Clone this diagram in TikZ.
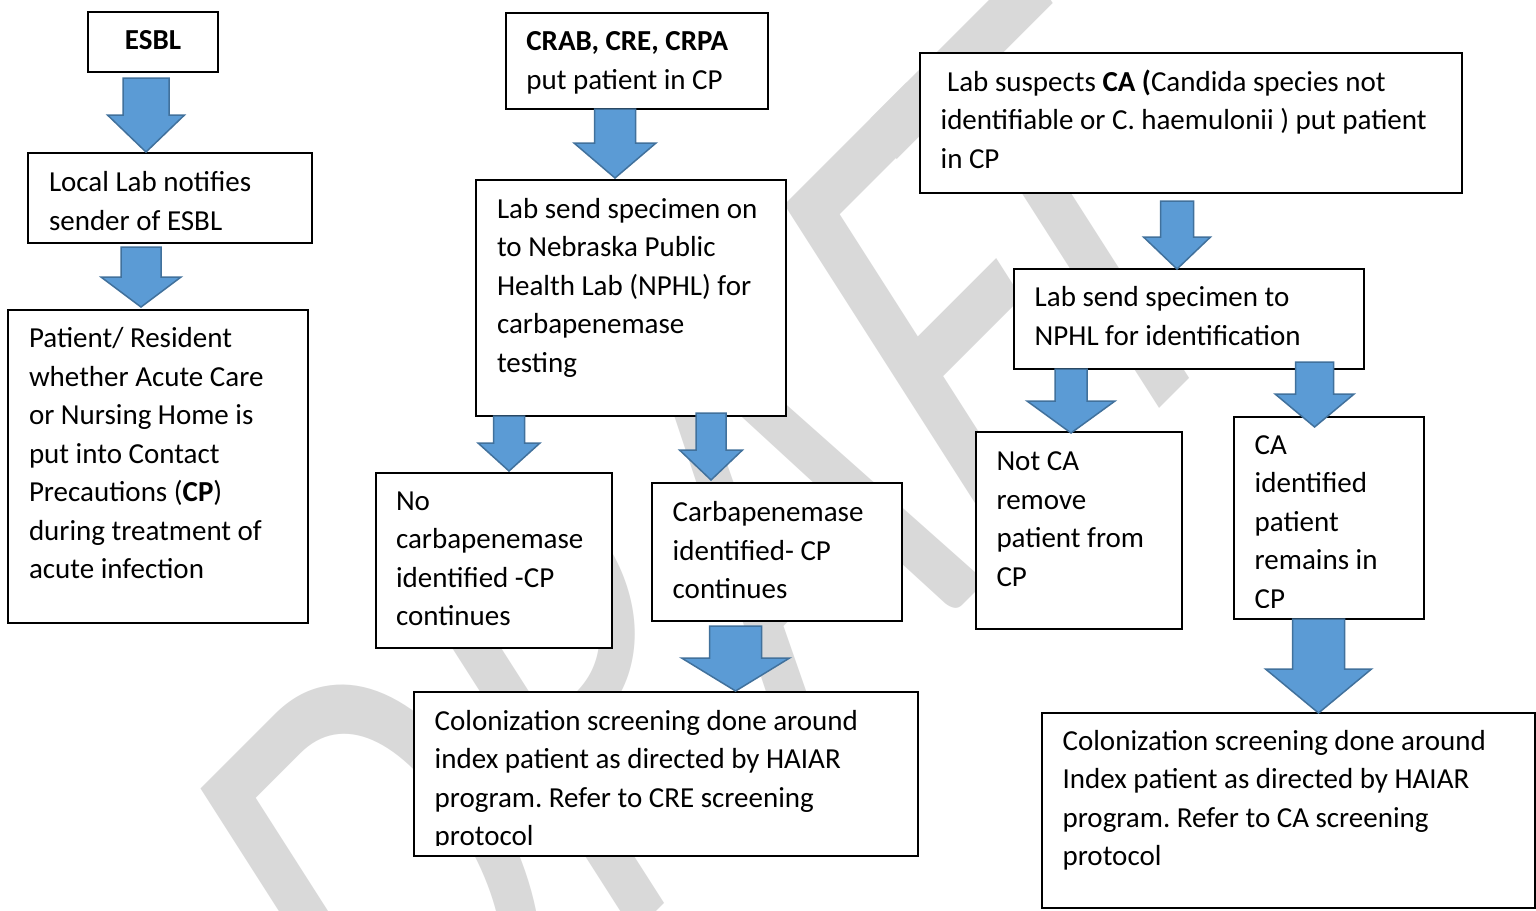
\documentclass[tikz,border=0pt]{standalone}
\usepackage{fontspec}
\setmainfont{Carlito}
\usetikzlibrary{calc}
\frenchspacing
\definecolor{arrfill}{RGB}{91,155,213}
\definecolor{arrline}{RGB}{65,113,156}
\definecolor{wmgray}{RGB}{217,217,217}
\newcommand\bodyfont{\fontsize{29pt}{38.5pt}\selectfont}
% #1 width, #2 height, #3 left pad, #4 first baseline offset, #5 text
\newcommand\tbox[5]{\parbox[c][#2pt][t]{#1pt}{\bodyfont\leftskip=#3pt\rightskip=0pt plus 1fil\parindent=0pt\parfillskip=0pt plus 1fil\relax\rule{0pt}{#4pt}#5}}
% #1 from, #2 to, #3 x, #4 top offset, #5 tip offset, #6 shaft hw, #7 head hw, #8 head length
\newcommand\barrow[8]{%
\filldraw[arr] let \p1=(#1.south), \p2=(#2.north) in
 ({#3pt-(#6pt)},{\y1-(#4pt)}) -- ({#3pt+(#6pt)},{\y1-(#4pt)}) --
 ({#3pt+(#6pt)},{\y2-(#5pt)+(#8pt)}) -- ({#3pt+(#7pt)},{\y2-(#5pt)+(#8pt)}) --
 ({#3pt},{\y2-(#5pt)}) --
 ({#3pt-(#7pt)},{\y2-(#5pt)+(#8pt)}) -- ({#3pt-(#6pt)},{\y2-(#5pt)+(#8pt)}) -- cycle;}
\begin{document}
\begin{tikzpicture}[x=1pt,y=-1pt,
  bx/.style={draw=black,line width=2pt,fill=white,inner sep=0pt,outer sep=0pt,anchor=north west},
  arr/.style={fill=arrfill,draw=arrline,line width=1.5pt,line join=miter},
  wm/.style={text=wmgray,inner sep=0pt,font=\fontsize{476pt}{476pt}\selectfont}]
\useasboundingbox (0,0) rectangle (1536,910);
\fill[white] (0,0) rectangle (1536,910);
\clip (0,0) rectangle (1536,910);
% watermark (slanted, stretched word)
\begin{scope}[shift={(403,1165)}, cm={0.707,0.707,-0.738,1.155,(0,0)}]
\node[wm, transform shape, anchor=base west] (wm) at (0,0) {DRAF\kern-0.15em T};
\end{scope}
% boxes
\node[bx] (esbl) at (88,12) {\parbox[c][60pt][t]{130pt}{\centering\bodyfont\rule{0pt}{38pt}\textbf{ESBL}}};
\node[bx] (local) at (28,153) {\tbox{284}{90}{21}{38.7}{Local Lab notifies\\sender of ESBL}};
\node[bx] (patient) at (8,310) {\tbox{300}{313}{21}{37.5}{Patient/ Resident\\whether Acute Care\\or Nursing Home is\\put into Contact\\Precautions (\textbf{CP})\\during treatment of\\acute infection}};
\node[bx] (crab) at (506,13) {\tbox{262}{96}{20.4}{37.7}{\textbf{CRAB, CRE, CRPA}\\put patient in CP}};
\node[bx] (labsend) at (476,180) {\tbox{310}{236}{21}{38}{Lab send specimen on\\to Nebraska Public\\Health Lab (NPHL) for\\carbapenemase\\testing}};
\node[bx] (nocarb) at (376,473) {\tbox{236}{175}{20}{37}{No\\carbapenemase\\identified -CP\\continues}};
\node[bx] (carb) at (652,483) {\tbox{250}{138}{20.7}{38.8}{Carbapenemase\\identified- CP\\continues}};
\node[bx] (colA) at (414,692) {\tbox{504}{164}{20.7}{38}{Colonization screening done around\\index patient as directed by HAIAR\\program. Refer to CRE screening\\protocol}};
\node[bx] (susp) at (920,53) {\tbox{542}{140}{20.6}{38}{\ Lab suspects \textbf{CA (}Candida species not\\identifiable or C. haemulonii ) put patient\\in CP}};
\node[bx] (send) at (1014,269) {\tbox{350}{100}{20.7}{37.7}{Lab send specimen to\\NPHL for identification}};
\node[bx] (notca) at (976,432) {\tbox{206}{197}{20.5}{38.7}{Not CA\\remove\\patient from\\CP}};
\node[bx] (caid) at (1234,417) {\tbox{190}{202}{20.7}{37.3}{CA\\identified\\patient\\remains in\\CP}};
\node[bx] (colB) at (1042,713) {\tbox{493}{195}{20.6}{37}{Colonization screening done around\\Index patient as directed by HAIAR\\program. Refer to CA screening\\protocol}};
% text clipped at the bottom of its area
\fill[white] (415,846) rectangle (917,855);
\fill[white] (1235,608) rectangle (1423,618);
% block arrows
\barrow{esbl}{local}{146}{6}{-1}{23}{38.5}{37}
\barrow{local}{patient}{141}{4}{-3}{20}{40}{30}
\barrow{crab}{labsend}{615}{0}{-2}{20.5}{41}{35}
\barrow{labsend}{nocarb}{509}{0}{-2}{15.5}{31}{28}
\barrow{labsend}{carb}{711}{-3}{-3}{15}{31.5}{30}
\barrow{carb}{colA}{735.6}{5}{-1}{26}{54}{33}
\barrow{susp}{send}{1177}{8}{0}{16.5}{33.5}{32}
\barrow{send}{notca}{1071}{0}{1}{16}{44}{32}
\barrow{send}{caid}{1314.6}{-7}{10}{19}{39.5}{33}
\barrow{caid}{colB}{1318.5}{0}{0}{26}{53}{44}
\end{tikzpicture}
\end{document}
